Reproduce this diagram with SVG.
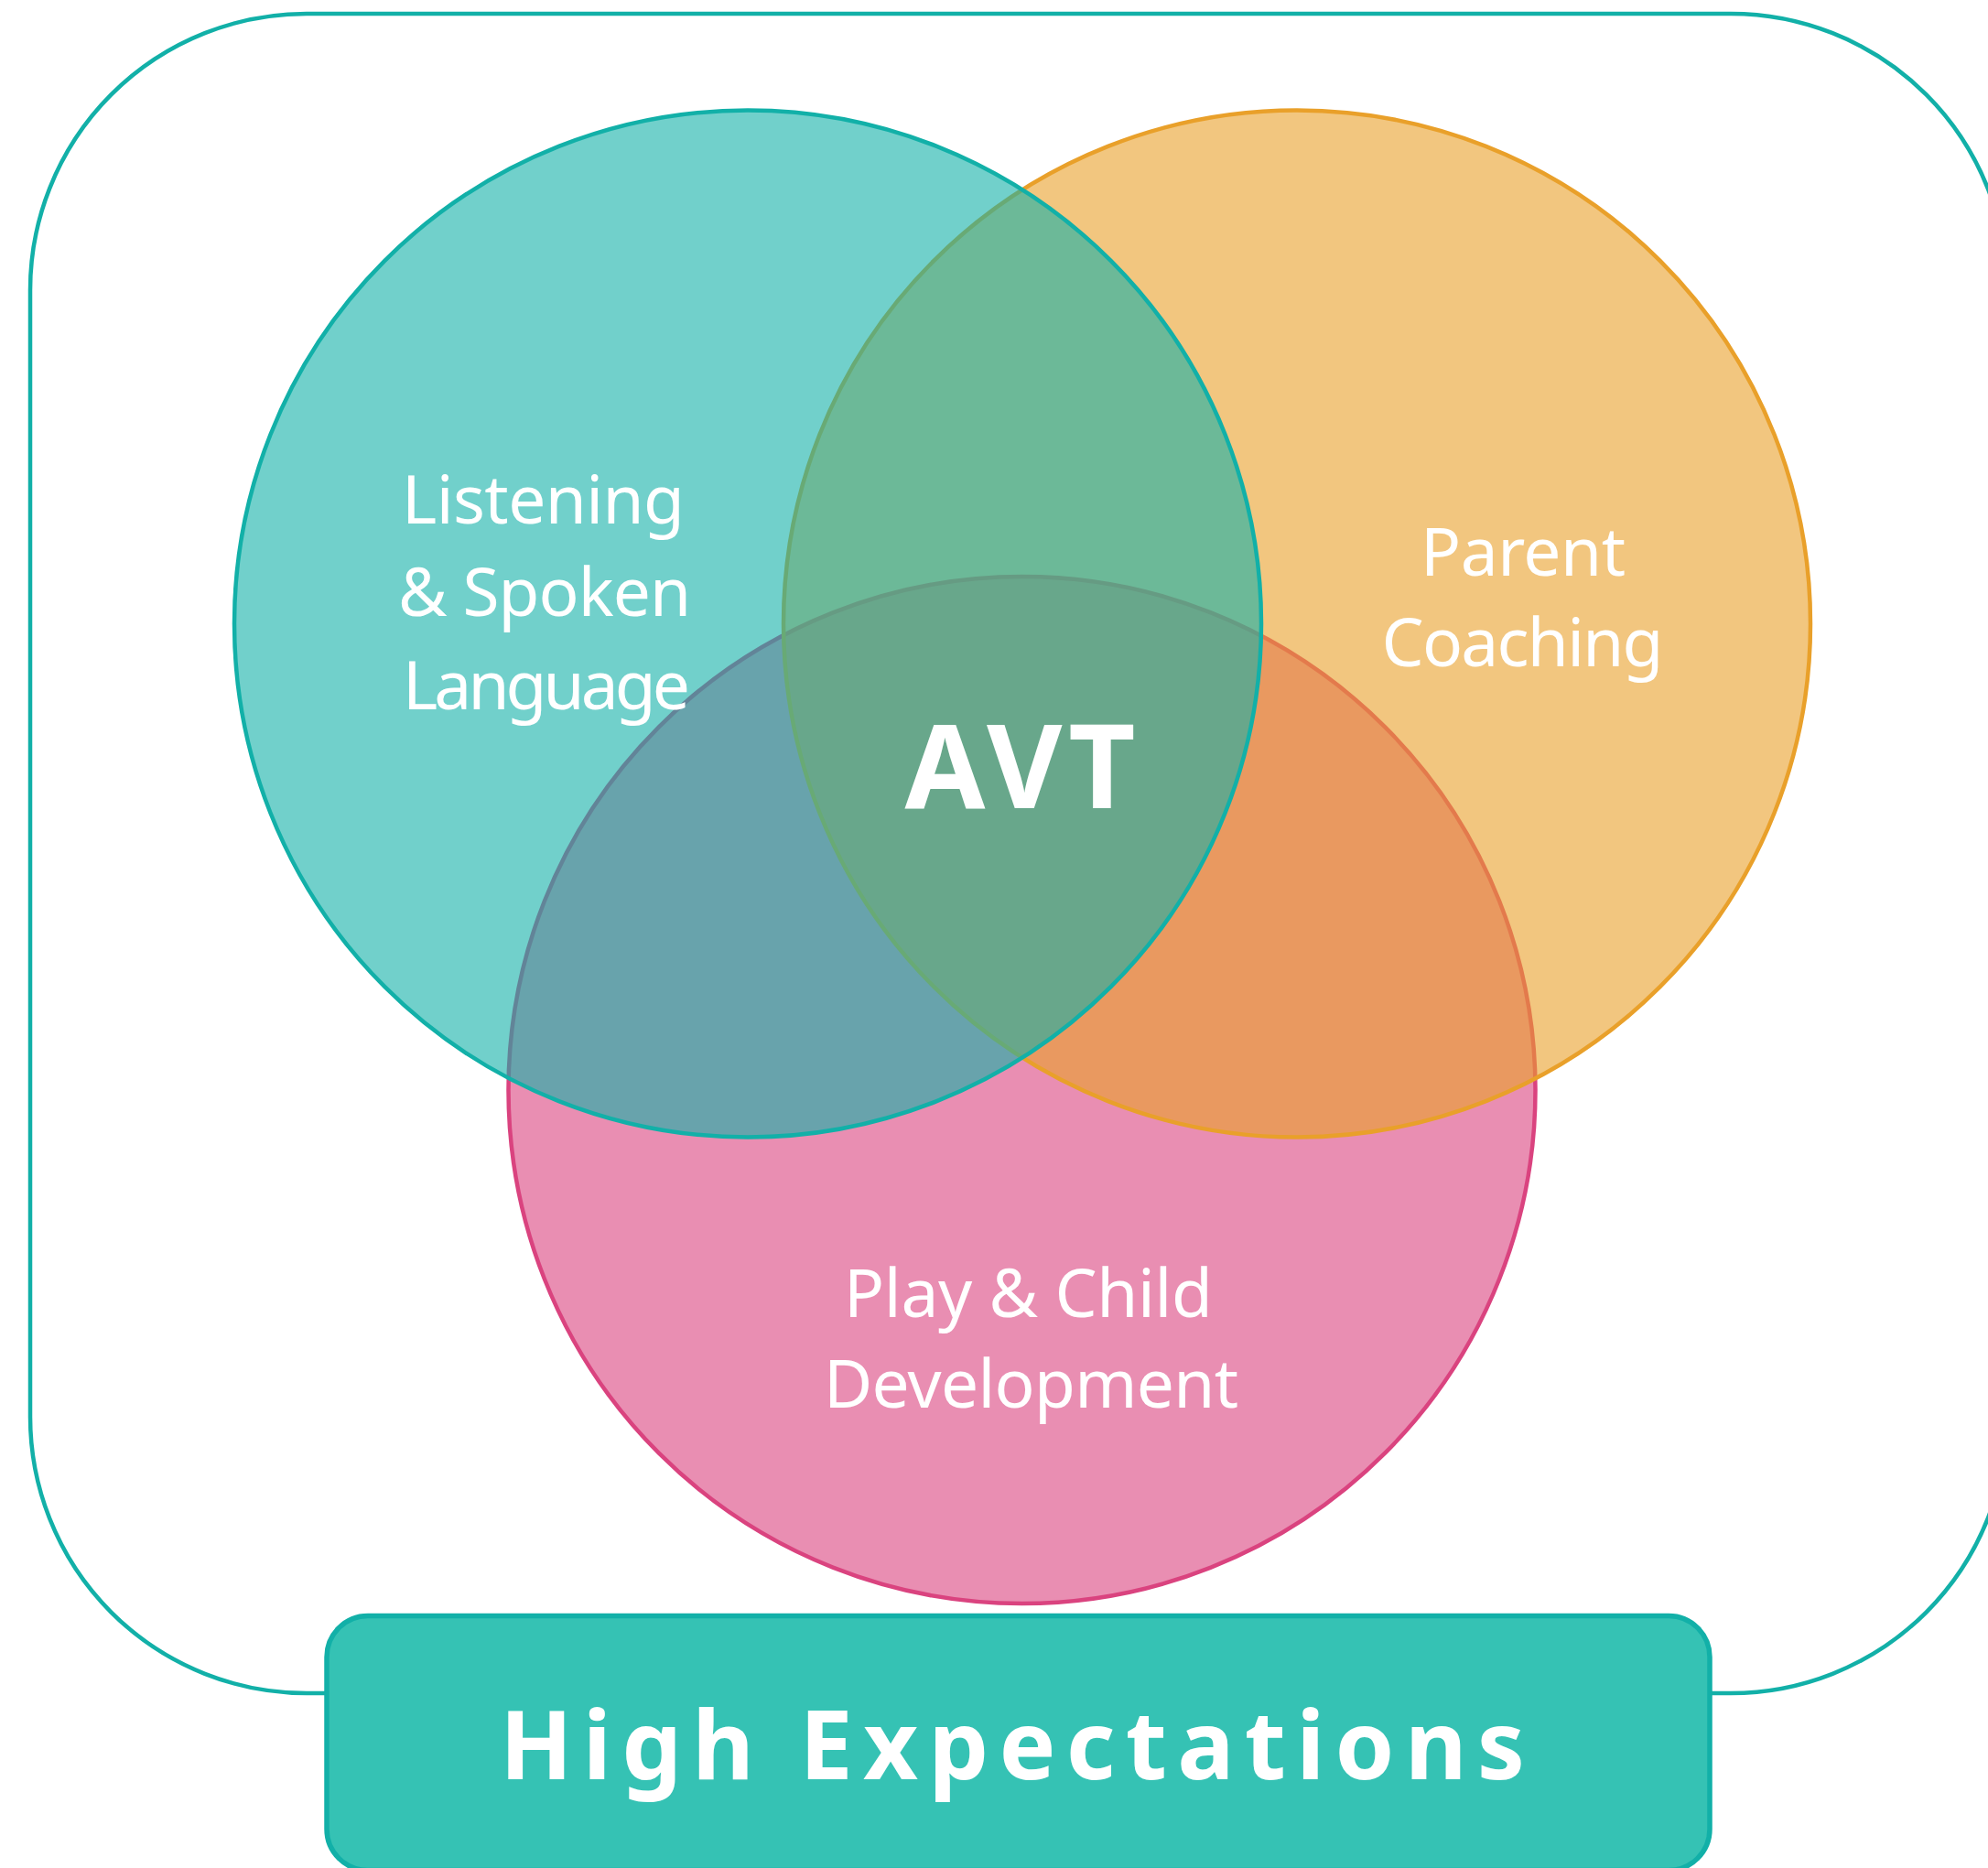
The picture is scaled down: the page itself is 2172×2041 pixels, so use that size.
<svg xmlns="http://www.w3.org/2000/svg" width="2172" height="2041" viewBox="0 0 2172 2041">
  <style>
    .circle { fill-opacity: 0.6; stroke-width: 4.5; }
    .label { font-family: "Noto Sans", "Open Sans", "DejaVu Sans", sans-serif; fill: #ffffff; text-anchor: middle; }
    .body { font-size: 73px; }
    .avt { font-size: 127px; font-weight: bold; }
    .he { font-size: 104px; font-weight: bold; }
  </style>
  <rect width="2172" height="2041" fill="#ffffff"/>
  <g id="frame">
    <rect x="33" y="15" width="2160" height="1835" rx="302" ry="302" fill="none" stroke="#12B0A8" stroke-width="4.5"/>
  </g>
  <g id="play-child-development">
    <circle class="circle" cx="1116.5" cy="1191" r="561" fill="#DA437F" stroke="#DA437F"/>
  </g>
  <g id="parent-coaching">
    <circle class="circle" cx="1417" cy="681.5" r="561" fill="#E9A02A" stroke="#E9A02A"/>
  </g>
  <g id="listening-spoken-language">
    <circle class="circle" cx="817" cy="681.5" r="561" fill="#12B0A8" stroke="#12B0A8"/>
  </g>
  <g id="connectors"></g>
  <g id="high-expectations">
    <rect x="357" y="1765.5" width="1511" height="278" rx="45" ry="45" fill="#35C2B4" stroke="#12B0A8" stroke-width="5.5"/>
    <text class="label he" x="1106" y="1944" textLength="1120" lengthAdjust="spacing">High Expectations</text>
  </g>
  <g id="labels">
    <text class="label body" x="593.5" y="572" textLength="309" lengthAdjust="spacing">Listening</text>
    <text class="label body" x="595" y="673" textLength="320" lengthAdjust="spacing">&amp; Spoken</text>
    <text class="label body" x="597" y="775" textLength="314" lengthAdjust="spacing">Language</text>
    <text class="label body" x="1664" y="629" textLength="224" lengthAdjust="spacing">Parent</text>
    <text class="label body" x="1663.5" y="728" textLength="308" lengthAdjust="spacing">Coaching</text>
    <text class="label body" x="1123.5" y="1439" textLength="403" lengthAdjust="spacing">Play &amp; Child</text>
    <text class="label body" x="1126.5" y="1538" textLength="453" lengthAdjust="spacing">Development</text>
  </g>
  <g id="avt">
    <text class="label avt" x="1114.5" y="883" textLength="252" lengthAdjust="spacing">AVT</text>
  </g>
</svg>
